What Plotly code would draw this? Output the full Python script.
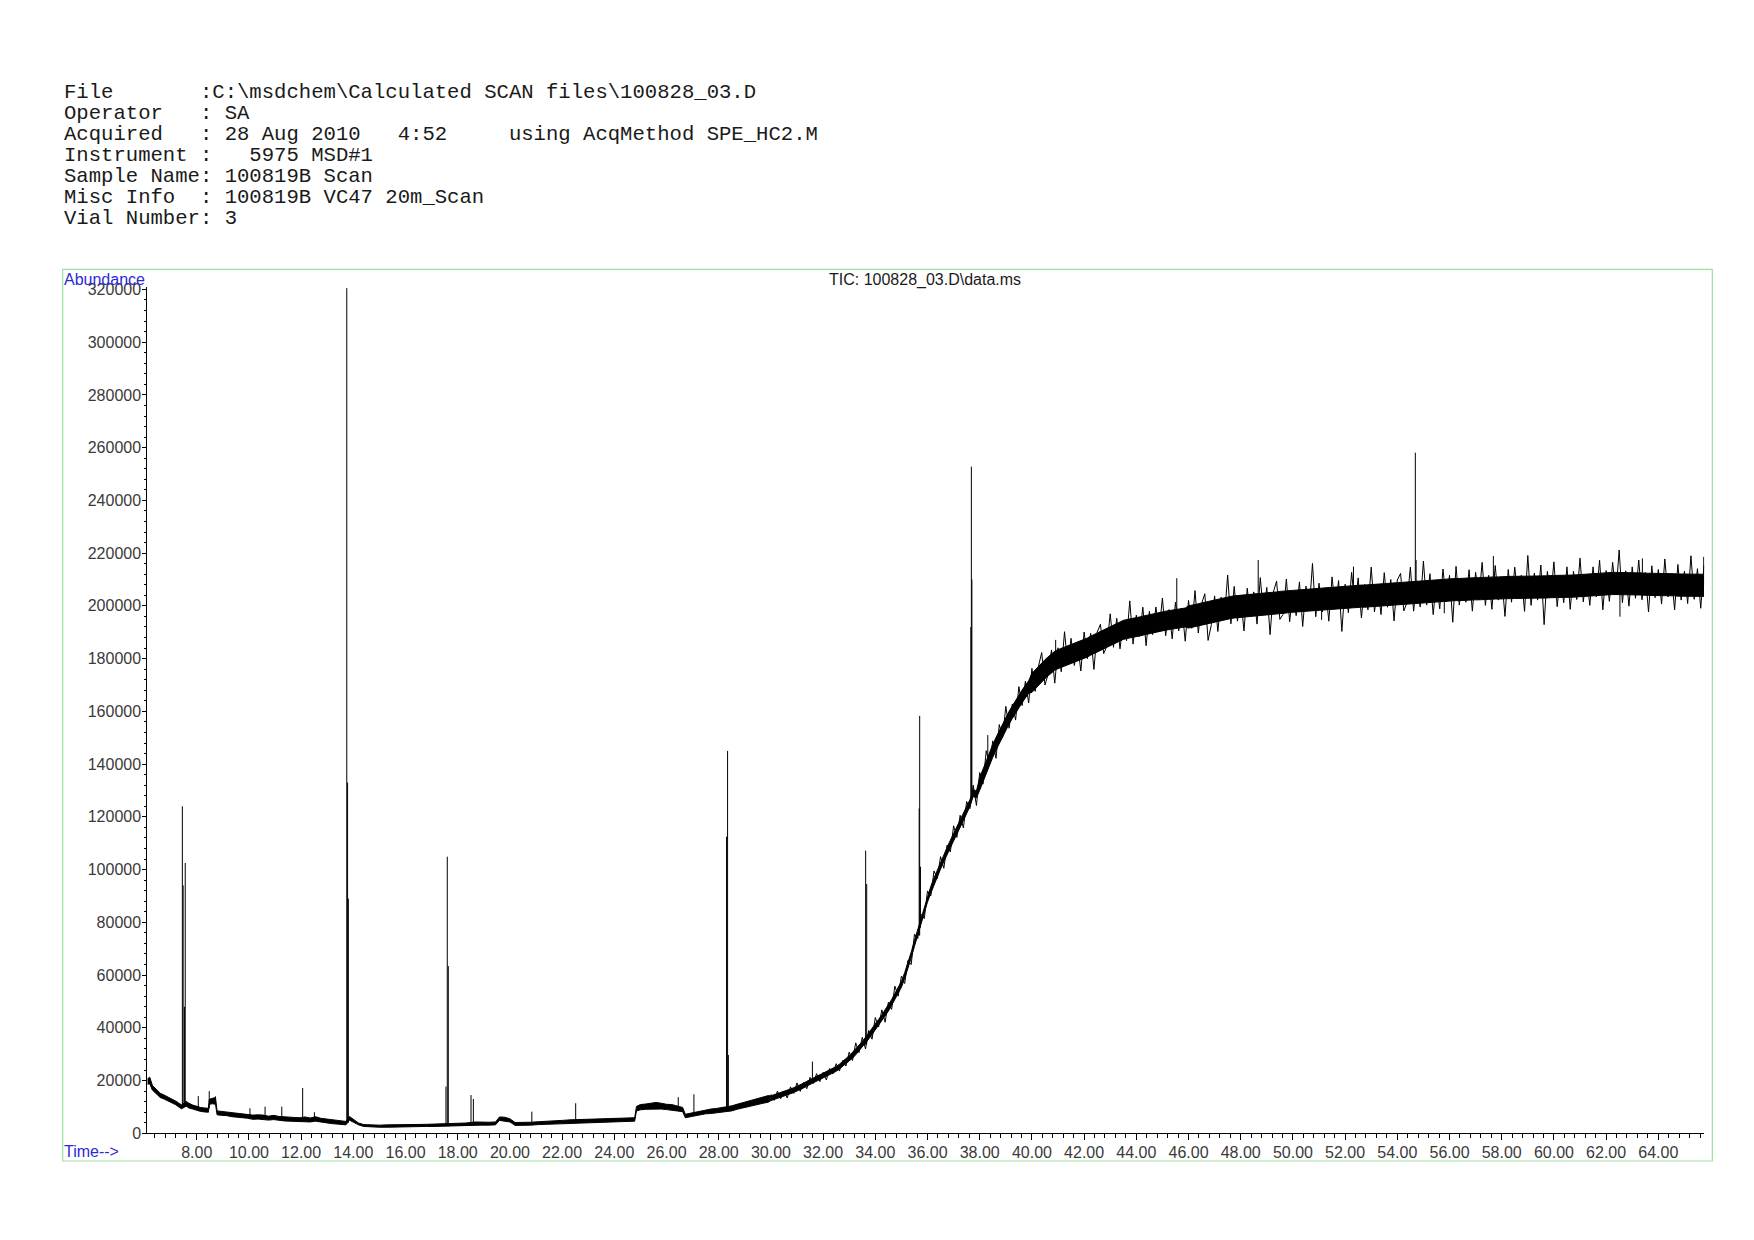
import plotly.graph_objects as go

# ---------------- DATA ----------------
header_lines = [
    "File       :C:\\msdchem\\Calculated SCAN files\\100828_03.D",
    "Operator   : SA",
    "Acquired   : 28 Aug 2010   4:52     using AcqMethod SPE_HC2.M",
    "Instrument :   5975 MSD#1",
    "Sample Name: 100819B Scan",
    "Misc Info  : 100819B VC47 20m_Scan",
    "Vial Number: 3",
]
plot_title = "TIC: 100828_03.D\\data.ms"
y_label = "Abundance"
x_label = "Time-->"

# early part of the trace (6.1 - 30.0 min): low / high edge of the thin trace
rt = [6.11, 6.2, 6.3, 6.45, 6.6, 6.75, 6.9, 7.05, 7.2, 7.35, 7.42, 7.6, 7.7, 7.85, 8.0, 8.15, 8.3, 8.45,
      8.48, 8.6, 8.72, 8.78, 8.95, 9.15, 9.35, 9.55, 9.75, 9.95, 10.15, 10.35, 10.55, 10.75, 10.95, 11.15,
      11.35, 11.55, 11.75, 11.95, 12.15, 12.35, 12.55, 12.75, 12.95, 13.15, 13.35, 13.55, 13.72,
      13.85, 14.0, 14.2, 14.4, 14.7, 15.0, 15.3, 15.6, 15.9, 16.2, 16.5, 16.8, 17.1, 17.4, 17.7, 18.0,
      18.3, 18.65, 18.9, 19.2, 19.45, 19.6, 19.8, 20.0, 20.2, 20.5, 20.8, 21.1, 21.4, 21.7, 22.0, 22.3,
      22.6, 22.9, 23.2, 23.5, 23.8, 24.1, 24.4, 24.78,
      24.85, 25.0, 25.2, 25.4, 25.6, 25.8, 26.0, 26.2, 26.4, 26.62, 26.72, 26.9, 27.1, 27.3, 27.5, 27.7,
      27.9, 28.1, 28.3, 28.5, 28.7, 28.9, 29.1, 29.3, 29.5, 29.7, 29.9, 30.0]
abund_lo = [18600, 18800, 16400, 15000, 13600, 13000, 12300, 11500, 10800, 9700, 9300, 10300, 9600, 9200,
            8600, 8300, 8100, 8000, 11000, 11200, 11000, 7000, 6800, 6700, 6300, 6000, 5900, 5700, 5300,
            5400, 5300, 5000, 5200, 4900, 4700, 4600, 4500, 4400, 4500, 4300, 4600, 4200, 4000, 3700, 3500,
            3300, 3200,
            5000, 4200, 3200, 2600, 2400, 2300, 2300, 2400, 2400, 2500, 2500, 2600, 2600, 2700, 2900, 2900,
            2900, 3100, 3100, 3100, 3200, 4900, 4700, 4300, 3000, 3000, 3100, 3300, 3400, 3600, 3700, 3900,
            4000, 4100, 4200, 4200, 4300, 4400, 4500, 4600,
            8500, 8900, 9100, 9200, 9300, 9200, 9000, 8800, 8600, 8200, 5900, 6300, 6600, 7100, 7400, 7500,
            7700, 8000, 8200, 8500, 9100, 9600, 10000, 10400, 11000, 11400, 11800, 12400]
abund_hi = [20600, 21300, 18200, 16600, 15200, 14500, 13800, 13000, 12200, 11200, 10800, 12100, 11400, 10700,
            10100, 9800, 9600, 9500, 12900, 13300, 13600, 8500, 8300, 8100, 7800, 7500, 7400, 7300, 6900,
            7000, 6900, 6500, 6800, 6400, 6200, 6100, 6000, 5900, 6200, 5800, 6300, 5700, 5400, 5100, 4800,
            4600, 4500,
            6400, 5200, 3900, 3300, 3100, 3100, 3200, 3200, 3300, 3300, 3400, 3400, 3500, 3600, 3900, 3800,
            3900, 4300, 4200, 4200, 4300, 6200, 6100, 5500, 4100, 4100, 4200, 4400, 4500, 4700, 4900, 5100,
            5200, 5200, 5400, 5400, 5500, 5600, 5700, 5900,
            10200, 10900, 11100, 11500, 11700, 11400, 11000, 10900, 10400, 9800, 7200, 7600, 8100, 8600,
            8900, 9200, 9400, 9700, 9900, 10400, 11000, 11600, 12100, 12700, 13300, 13900, 14300, 14200]

# later part (30.0 - 65.75 min), one reading every 0.125 min: trace level and scan-to-scan noise
scan_rt = [30.0, 30.125, 30.25, 30.375, 30.5, 30.625, 30.75, 30.875,
           31.0, 31.125, 31.25, 31.375, 31.5, 31.625, 31.75, 31.875,
           32.0, 32.125, 32.25, 32.375, 32.5, 32.625, 32.75, 32.875,
           33.0, 33.125, 33.25, 33.375, 33.5, 33.625, 33.75, 33.875,
           34.0, 34.125, 34.25, 34.375, 34.5, 34.625, 34.75, 34.875,
           35.0, 35.125, 35.25, 35.375, 35.5, 35.625, 35.75, 35.875,
           36.0, 36.125, 36.25, 36.375, 36.5, 36.625, 36.75, 36.875,
           37.0, 37.125, 37.25, 37.375, 37.5, 37.625, 37.75, 37.875,
           38.0, 38.125, 38.25, 38.375, 38.5, 38.625, 38.75, 38.875,
           39.0, 39.125, 39.25, 39.375, 39.5, 39.625, 39.75, 39.875,
           40.0, 40.125, 40.25, 40.375, 40.5, 40.625, 40.75, 40.875,
           41.0, 41.125, 41.25, 41.375, 41.5, 41.625, 41.75, 41.875,
           42.0, 42.125, 42.25, 42.375, 42.5, 42.625, 42.75, 42.875,
           43.0, 43.125, 43.25, 43.375, 43.5, 43.625, 43.75, 43.875,
           44.0, 44.125, 44.25, 44.375, 44.5, 44.625, 44.75, 44.875,
           45.0, 45.125, 45.25, 45.375, 45.5, 45.625, 45.75, 45.875,
           46.0, 46.125, 46.25, 46.375, 46.5, 46.625, 46.75, 46.875,
           47.0, 47.125, 47.25, 47.375, 47.5, 47.625, 47.75, 47.875,
           48.0, 48.125, 48.25, 48.375, 48.5, 48.625, 48.75, 48.875,
           49.0, 49.125, 49.25, 49.375, 49.5, 49.625, 49.75, 49.875,
           50.0, 50.125, 50.25, 50.375, 50.5, 50.625, 50.75, 50.875,
           51.0, 51.125, 51.25, 51.375, 51.5, 51.625, 51.75, 51.875,
           52.0, 52.125, 52.25, 52.375, 52.5, 52.625, 52.75, 52.875,
           53.0, 53.125, 53.25, 53.375, 53.5, 53.625, 53.75, 53.875,
           54.0, 54.125, 54.25, 54.375, 54.5, 54.625, 54.75, 54.875,
           55.0, 55.125, 55.25, 55.375, 55.5, 55.625, 55.75, 55.875,
           56.0, 56.125, 56.25, 56.375, 56.5, 56.625, 56.75, 56.875,
           57.0, 57.125, 57.25, 57.375, 57.5, 57.625, 57.75, 57.875,
           58.0, 58.125, 58.25, 58.375, 58.5, 58.625, 58.75, 58.875,
           59.0, 59.125, 59.25, 59.375, 59.5, 59.625, 59.75, 59.875,
           60.0, 60.125, 60.25, 60.375, 60.5, 60.625, 60.75, 60.875,
           61.0, 61.125, 61.25, 61.375, 61.5, 61.625, 61.75, 61.875,
           62.0, 62.125, 62.25, 62.375, 62.5, 62.625, 62.75, 62.875,
           63.0, 63.125, 63.25, 63.375, 63.5, 63.625, 63.75, 63.875,
           64.0, 64.125, 64.25, 64.375, 64.5, 64.625, 64.75, 64.875,
           65.0, 65.125, 65.25, 65.375, 65.5, 65.625, 65.75]
scan_level = [13300, 13700, 14100, 14500, 14900, 15400, 15900, 16400,
              16900, 17500, 18100, 18800, 19400, 20000, 20500, 21100,
              21700, 22400, 23000, 23700, 24400, 25300, 26300, 27300,
              28300, 29600, 30900, 32300, 33700, 35300, 36900, 38600,
              40300, 42100, 43800, 45600, 47400, 49600, 51900, 54200,
              56500, 59800, 63500, 67600, 72000, 76300, 80500, 84800,
              89000, 92300, 95500, 98600, 101500, 104300, 107100, 109800,
              112300, 114800, 117300, 119800, 122200, 125200, 129000, 128500,
              132500, 135800, 139000, 142100, 145000, 147700, 150300, 152900,
              155300, 157600, 159700, 161800, 163800, 165700, 167500, 169200,
              170800, 172200, 173600, 174800, 176000, 177100, 178200, 179200,
              179800, 180300, 180800, 181300, 181700, 182200, 182600, 183000,
              183500, 184200, 184900, 185500, 186200, 186800, 187500, 188200,
              188800, 189400, 190000, 190500, 190900, 191200, 191400, 191700,
              191900, 192200, 192500, 192800, 193100, 193400, 193700, 193900,
              194200, 194400, 194600, 194800, 195000, 195200, 195400, 195600,
              195800, 196000, 196300, 196600, 196900, 197200, 197500, 197800,
              198100, 198400, 198700, 199000, 199200, 199400, 199600, 199700,
              199800, 199900, 200000, 200200, 200300, 200400, 200500, 200700,
              200800, 200900, 201000, 201100, 201300, 201400, 201500, 201700,
              201800, 201900, 202000, 202100, 202200, 202300, 202400, 202500,
              202600, 202700, 202800, 202900, 203000, 203100, 203200, 203300,
              203400, 203400, 203500, 203500, 203600, 203700, 203700, 203800,
              203900, 204000, 204000, 204100, 204200, 204300, 204400, 204500,
              204600, 204700, 204800, 204900, 205000, 205100, 205200, 205300,
              205400, 205500, 205600, 205700, 205800, 205900, 205900, 206000,
              206100, 206100, 206200, 206200, 206300, 206300, 206400, 206400,
              206500, 206500, 206600, 206600, 206700, 206700, 206800, 206800,
              206900, 206900, 206900, 207000, 207000, 207000, 207000, 207100,
              207100, 207100, 207100, 207200, 207200, 207200, 207200, 207300,
              207300, 207300, 207300, 207400, 207400, 207500, 207500, 207600,
              207700, 207800, 207900, 208000, 208100, 208200, 208300, 208300,
              208400, 208400, 208500, 208500, 208500, 208500, 208500, 208400,
              208400, 208400, 208300, 208300, 208200, 208200, 208200, 208100,
              208100, 208100, 208000, 208000, 208000, 208000, 207900, 207900,
              207900, 207900, 207800, 207800, 207800, 207800, 207800]
scan_noise = [
    # 30 - 33 min
    1500, -1200, 1900, -1400, 1100, -2000, 1700, -1300, 2200, -1600, 1200, -1900,
    1800, -1100, 2100, -1500, 1400, -2200, 1600, -1200, 2000, -1700, 1300, -1800,
    # 33 - 36 min
    2500, -2000, 3400, -1700, 2700, -3300, 2100, -2900, 3600, -1800, 3000, -3500,
    2300, -2600, 3900, -2200, 3100, -3000, 2000, -3600, 3500, -2500, 2600, -3400,
    # 36 - 38 min
    2900, -2300, 4000, -2000, 3400, -3800, 2200, -3100, 4300, -2600, 3300, -4000,
    3600, -2100, 3000, -4200,
    # 38 - 40 min
    4300, -3400, 6100, -2300, 3800, -5500, 4700, -3000, 6600, -4000, 3100, -5100,
    5600, -3500, 3900, -6000,
    # 40 - 46 min
    5500, -4600, 3400, 7500, -6000, -2900, 5100, -8500, 4300, -5300, 9400, -3600, 6000, -4800, 3100, -7700,
    6600, -4200, 4700, -9600, 3800, 6200, -5600, -3400, 8200, -5100, 5300, -6800, 3500, -4400, 10500, -6200,
    4600, -3800, 7000, -7900, 4900, -4300, 5900, -3300, 8800, -5700, 4000, -7300, 6400, -4700, 3600, -9000,
    # 46 - 65.75 min
    6300, -4500, 9500, -6900, 3900, 7400, -10600, -4900, 5700, -8100, 4600, -3600, 12500, -6200, 7800, -5500,
    3500, -9400, 6700, -4300,
    5000, -7300, 10200, -4100, 6200, -11800, 4200, 8300, -6400, -4600, 8700, -7700, 3800, -5600, 7100, -9900,
    5300, -3900, 13700, -6600,
    6000, -5000, 4100, -8700, 8000, -4200, 6400, -13000, 4800, -6000, 9200, -3800, 7000, -8300, 4500, -5300,
    10800, -6300, 3600, -7400,
    8400, -4800, 5600, -10200, 5200, 7600, -6700, -3500, 9700, -7100, 4300, -5700, 11600, -5200, 6600, -9000,
    3900, -7000, 8100, -4500,
    5500, -12300, 8800, -5900, 3800, -4900, 7300, -8400, 6200, -4100, 9900, -6400, 4900, -8000, 8500, -4600,
    4100, -10900, 6900, -5600,
    7700, -4300, 4600, -9200, 12000, -6900, 5300, -5000, 8300, -14300, 5900, -4200, 9400, -7600, 4200, -6200,
    7400, -8800, 5600, -5200,
    10400, -6300, 3900, -7800, 6700, -4800, 9000, -9800, 5000, -6700, 8000, -4300, 12700, -7300, 4800, -8500,
    6400, -5500, 9100, -6000,
    4500, -10500, 7000, -5000, 5700, -7400, 9800, -4600, 4100, -9500, 7800, -5700, 5200, -7000, 11200, -5300,
    6300, -8700, 7600]
# half thickness of the dense (solid black) part of the trace, by time segment
core_from_rt = [30.0, 33.0, 36.0, 38.0, 40.0, 46.0]
core_half = [900, 1100, 1300, 2400, 3600, 4200]

# individual peaks / spikes: retention time, foot, apex
peak_rt = [7.45, 7.48, 7.53, 7.56, 8.06, 8.48, 8.72, 10.04, 10.62, 11.26, 12.06, 12.51,
           13.75, 13.78, 13.81, 17.55, 17.60, 17.64, 18.51, 18.60, 20.84, 22.52, 26.45, 27.05,
           28.30, 28.34, 28.37, 31.59, 33.63, 33.67, 35.68, 35.70, 35.73, 37.66, 37.68, 37.70,
           38.31, 40.91, 45.55, 48.67, 51.10, 52.32, 54.69, 54.72, 55.80, 57.68, 62.53, 63.39, 65.74]
peak_foot = [10000, 10000, 10500, 10500, 9000, 9500, 12500, 6500, 6000, 5800, 5500, 5500,
             4000, 4000, 4000, 3500, 3500, 3500, 3500, 3500, 4000, 4800, 9500, 7000,
             9000, 9000, 9000, 19500, 33500, 34000, 75000, 75000, 78000, 127000, 127000, 127000,
             141000, 178000, 195000, 200000, 202700, 203500, 205000, 205000, 206000, 206700, 208500, 208200, 207800]
peak_apex = [124000, 94000, 48000, 102500, 14100, 16000, 14000, 9500, 10100, 10100, 17200, 8000,
             320500, 133000, 89000, 17700, 104900, 63400, 14500, 13000, 8200, 11400, 13700, 14800,
             112500, 145000, 29700, 27200, 107200, 94500, 123200, 158300, 101100, 192000, 252800, 210000,
             151000, 187100, 210500, 217400, 194700, 214900, 258100, 217400, 197200, 218900, 195900, 218000, 218600]

x_ticks = [8, 10, 12, 14, 16, 18, 20, 22, 24, 26, 28, 30, 32, 34, 36, 38, 40, 42, 44, 46, 48, 50,
           52, 54, 56, 58, 60, 62, 64]
y_ticks = [0, 20000, 40000, 60000, 80000, 100000, 120000, 140000, 160000, 180000, 200000, 220000,
           240000, 260000, 280000, 300000, 320000]

assert len(rt) == len(abund_lo) == len(abund_hi)
assert len(scan_rt) == len(scan_level) == len(scan_noise), (len(scan_rt), len(scan_level), len(scan_noise))
assert len(peak_rt) == len(peak_foot) == len(peak_apex)

# ---------------- LAYOUT (page pixel geometry; page body has an 8 px margin) ----------------
OFF = 8
W, H = 1754 - 2 * OFF, 1240 - 2 * OFF
def px(x):
    return (x - OFF) / W
def py(y):
    return (H - (y - OFF)) / H

# build drawing tables
core_lo, core_hi = [], []
for t, lvl in zip(scan_rt, scan_level):
    half = core_half[0]
    for start, h in zip(core_from_rt, core_half):
        if t >= start:
            half = h
    core_lo.append(lvl - half)
    core_hi.append(lvl + half)
noise_y = [lvl + n for lvl, n in zip(scan_level, scan_noise)]

peak_x, peak_y = [], []
for t, f, a in zip(peak_rt, peak_foot, peak_apex):
    peak_x += [t, t, None]
    peak_y += [f, a, None]

line = dict(color="black", width=1)
fig = go.Figure()
fig.add_trace(go.Scatter(x=rt, y=abund_lo, mode="lines", line=line, hoverinfo="skip"))
fig.add_trace(go.Scatter(x=rt, y=abund_hi, mode="lines", line=line, fill="tonexty",
                         fillcolor="black", hoverinfo="skip"))
fig.add_trace(go.Scatter(x=scan_rt, y=core_lo, mode="lines", line=line, hoverinfo="skip"))
fig.add_trace(go.Scatter(x=scan_rt, y=core_hi, mode="lines", line=line, fill="tonexty",
                         fillcolor="black", hoverinfo="skip"))
fig.add_trace(go.Scatter(x=scan_rt, y=noise_y, mode="lines", line=line, hoverinfo="skip"))
fig.add_trace(go.Scatter(x=peak_x, y=peak_y, mode="lines", line=line, hoverinfo="skip"))

tick_font = dict(family="Liberation Sans, Arial, sans-serif", size=16, color="#3a3a3a")

fig.update_layout(
    width=W, height=H,
    margin=dict(l=0, r=0, t=0, b=0),
    paper_bgcolor="white", plot_bgcolor="white",
    showlegend=False,
    xaxis=dict(
        domain=[px(147.3), px(1704.3)], range=[6.107, 65.762],
        showgrid=False, zeroline=False, showline=True, linecolor="black", linewidth=1,
        tickmode="array", tickvals=x_ticks, ticktext=[f"{v:.2f}" for v in x_ticks],
        ticks="outside", ticklen=6, tickcolor="black", tickwidth=1, ticklabelstandoff=-2,
        minor=dict(dtick=0.4, tick0=0, ticks="outside", ticklen=4, tickcolor="black"),
        tickfont=tick_font, automargin=False,
    ),
    yaxis=dict(
        domain=[py(1133.3), py(286.8)], range=[0, 321000],
        showgrid=False, zeroline=False, showline=True, linecolor="black", linewidth=1,
        tickmode="array", tickvals=y_ticks, ticktext=[str(v) for v in y_ticks],
        ticks="outside", ticklen=4, tickcolor="black", tickwidth=1, ticklabelstandoff=-2,
        minor=dict(dtick=4000, tick0=0, ticks="outside", ticklen=2, tickcolor="black"),
        tickfont=tick_font, automargin=False,
    ),
)

# green frame
fig.add_shape(type="rect", xref="paper", yref="paper",
              x0=px(62.7), x1=px(1712.3), y0=py(1161), y1=py(269.3),
              line=dict(color="#9be39b", width=1.2), layer="below")

mono = "Liberation Mono, DejaVu Sans Mono, monospace"
for i, txt in enumerate(header_lines):
    yc = 92.8 + 20.9 * i
    fig.add_annotation(text=txt.replace(" ", "\u00a0"), xref="paper", yref="paper",
                       x=px(62.0), y=py(yc), xanchor="left", yanchor="middle",
                       showarrow=False, font=dict(family=mono, size=20.6, color="#1a1a1a"))

sans = "Liberation Sans, Arial, sans-serif"
fig.add_annotation(text=y_label, xref="paper", yref="paper", x=px(61.5), y=py(268.5),
                   xanchor="left", yanchor="top", showarrow=False,
                   font=dict(family=sans, size=16, color="#2a2ad8"))
fig.add_annotation(text=x_label, xref="paper", yref="paper", x=px(61.5), y=py(1151),
                   xanchor="left", yanchor="middle", showarrow=False,
                   font=dict(family=sans, size=16, color="#2a2ad8"))
fig.add_annotation(text=plot_title, xref="paper", yref="paper", x=px(925), y=py(280),
                   xanchor="center", yanchor="middle", showarrow=False,
                   font=dict(family=sans, size=16, color="#1a1a1a"))

fig.write_html("out.html")
